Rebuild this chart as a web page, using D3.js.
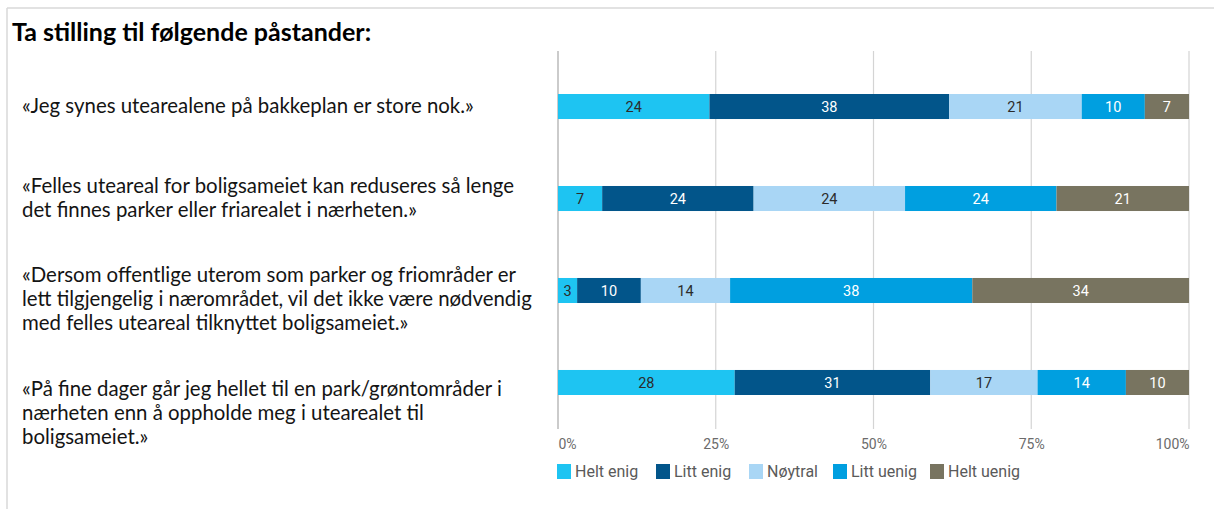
<!DOCTYPE html>
<html>
<head>
<meta charset="utf-8">
<script src="https://cdn.jsdelivr.net/npm/d3@7"></script>
<style>
  html, body { margin: 0; padding: 0; background: #fff; }
  svg { display: block; }
</style>
</head>
<body>
<svg id="chart" width="1214" height="509"></svg>
<script>
// Statements (each split into its printed lines)
const statements = [
  ["«Jeg synes utearealene på bakkeplan er store nok.»"],
  ["«Felles uteareal for boligsameiet kan reduseres så lenge",
   "det finnes parker eller friarealet i nærheten.»"],
  ["«Dersom offentlige uterom som parker og friområder er",
   "lett tilgjengelig i nærområdet, vil det ikke være nødvendig",
   "med felles uteareal tilknyttet boligsameiet.»"],
  ["«På fine dager går jeg hellet til en park/grøntområder i",
   "nærheten enn å oppholde meg i utearealet til",
   "boligsameiet.»"]
];

// Response categories (legend order = stack order)
const responses = ["Helt enig", "Litt enig", "Nøytral", "Litt uenig", "Helt uenig"];

// Percent answering each category, one array per statement
const heltEnig  = [24, 7, 3, 28];
const littEnig  = [38, 24, 10, 31];
const noytral   = [21, 24, 14, 17];
const littUenig = [10, 24, 38, 14];
const heltUenig = [7, 21, 34, 10];

const tickLabels = ["0%", "25%", "50%", "75%", "100%"];
const tickValues = [0, 0.25, 0.5, 0.75, 1];

const colors = ["#1ec4f2", "#02558a", "#a9d6f5", "#009fe0", "#787460"];
const labelColors = ["#2b2b2b", "#ffffff", "#2b2b2b", "#ffffff", "#ffffff"];

const rows = statements.map((s, i) => ({
  id: i,
  "Helt enig": heltEnig[i],
  "Litt enig": littEnig[i],
  "Nøytral": noytral[i],
  "Litt uenig": littUenig[i],
  "Helt uenig": heltUenig[i]
}));

const svg = d3.select("#chart");

// Frame lines
svg.append("line").attr("x1", 7).attr("x2", 1214).attr("y1", 8).attr("y2", 8)
  .attr("stroke", "#d9d9d9").attr("stroke-width", 1.5);
svg.append("line").attr("x1", 7).attr("x2", 7).attr("y1", 8).attr("y2", 509)
  .attr("stroke", "#d9d9d9").attr("stroke-width", 1.5);

// Title
svg.append("text")
  .attr("x", 12).attr("y", 41)
  .attr("font-family", "Lato, 'Open Sans', sans-serif")
  .attr("font-weight", "bold")
  .attr("font-size", 25)
  .attr("fill", "#000")
  .text("Ta stilling til følgende påstander:");

const x = d3.scaleLinear().domain([0, 1]).range([558, 1189]);
const y = d3.scaleBand().domain(rows.map(d => d.id)).range([94, 395])
  .paddingInner(0.728).paddingOuter(0);

// Gridlines
svg.append("g").selectAll("line").data(tickValues).join("line")
  .attr("x1", d => x(d)).attr("x2", d => x(d))
  .attr("y1", 51).attr("y2", 429)
  .attr("stroke", (d, i) => i === 0 ? "#a8a8a8" : "#d4d4d4")
  .attr("stroke-width", 1.2);

// Tick labels: first starts at its line, last ends at its line
const axis = d3.axisBottom(x).tickValues(tickValues)
  .tickFormat((d, i) => tickLabels[i]).tickSize(0).tickPadding(0);
const axisG = svg.append("g").attr("transform", "translate(0,439)").call(axis);
axisG.select(".domain").remove();
axisG.selectAll("text")
  .attr("font-family", "Roboto, sans-serif")
  .attr("font-size", 14)
  .attr("fill", "#6b6b6b")
  .attr("text-anchor", (d, i) => i === 0 ? "start" : (i === tickValues.length - 1 ? "end" : "middle"));

// Stacked bars normalised to 100 %
const stack = d3.stack().keys(responses).offset(d3.stackOffsetExpand);
const series = stack(rows);

const layers = svg.append("g").selectAll("g").data(series).join("g")
  .attr("fill", (d, i) => colors[i]);

layers.selectAll("rect").data(d => d).join("rect")
  .attr("x", d => x(d[0]))
  .attr("y", d => y(d.data.id))
  .attr("width", d => x(d[1]) - x(d[0]))
  .attr("height", y.bandwidth());

// Value labels
const labelG = svg.append("g");
series.forEach((s, si) => {
  labelG.selectAll(null).data(s).join("text")
    .attr("x", d => (x(d[0]) + x(d[1])) / 2)
    .attr("y", d => y(d.data.id) + y.bandwidth() / 2)
    .attr("dy", "0.36em")
    .attr("text-anchor", "middle")
    .attr("font-family", "Roboto, sans-serif")
    .attr("font-size", 14.5)
    .attr("fill", labelColors[si])
    .text(d => d.data[s.key]);
});

// Statement texts at the left
const lineH = 24;
const textG = svg.append("g")
  .attr("font-family", "Lato, 'Open Sans', sans-serif")
  .attr("font-size", 20.4)
  .attr("fill", "#141414");
const blockTop = [106, 186, 275, 389];
statements.forEach((lines, i) => {
  textG.append("text")
    .attr("x", 22)
    .selectAll("tspan").data(lines).join("tspan")
    .attr("x", 22)
    .attr("y", (d, j) => blockTop[i] + j * lineH)
    .attr("dy", "0.36em")
    .text(d => d);
});

// Legend
const legendX = [557, 656, 749, 833, 930];
const legend = svg.append("g").selectAll("g").data(responses).join("g")
  .attr("transform", (d, i) => `translate(${legendX[i]},464)`);
legend.append("rect").attr("width", 14).attr("height", 15)
  .attr("fill", (d, i) => colors[i]);
legend.append("text").attr("x", 18).attr("y", 7.5).attr("dy", "0.36em")
  .attr("font-family", "Roboto, sans-serif")
  .attr("font-size", 16)
  .attr("fill", "#5a5a5a")
  .text(d => d);
</script>
</body>
</html>
